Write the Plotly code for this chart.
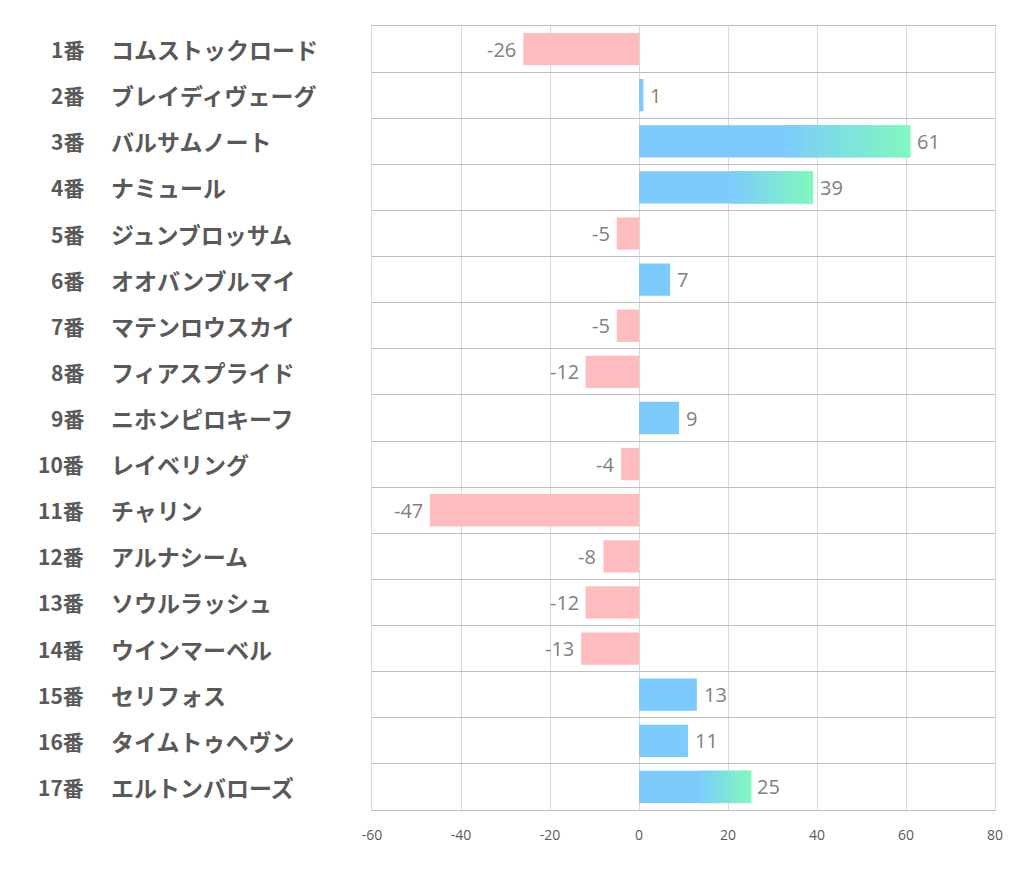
import plotly.graph_objects as go

numbers = ["1番", "2番", "3番", "4番", "5番", "6番", "7番", "8番", "9番", "10番",
           "11番", "12番", "13番", "14番", "15番", "16番", "17番"]
names = ["コムストックロード", "ブレイディヴェーグ", "バルサムノート", "ナミュール",
         "ジュンブロッサム", "オオバンブルマイ", "マテンロウスカイ", "フィアスプライド",
         "ニホンピロキーフ", "レイベリング", "チャリン", "アルナシーム", "ソウルラッシュ",
         "ウインマーベル", "セリフォス", "タイムトゥヘヴン", "エルトンバローズ"]
values = [-26, 1, 61, 39, -5, 7, -5, -12, 9, -4, -47, -8, -12, -13, 13, 11, 25]
x_ticks = [-60, -40, -20, 0, 20, 40, 60, 80]

BLUE = (125, 203, 253)
GREEN = (128, 248, 190)
PINK = (255, 188, 191)
GRAD_MIN = 20      # bars longer than this get a blue->green gradient
GRAD_START = 0.53  # fraction of bar length where the gradient begins
NSEG = 50


def rgb(c):
    return "rgb(%d,%d,%d)" % c


def mix(a, b, t):
    return tuple(round(a[i] + (b[i] - a[i]) * t) for i in range(3))


seg_y, seg_base, seg_len, seg_col = [], [], [], []
for num, v in zip(numbers, values):
    if v < 0:
        seg_y.append(num); seg_base.append(0); seg_len.append(v); seg_col.append(rgb(PINK))
    elif v <= GRAD_MIN:
        seg_y.append(num); seg_base.append(0); seg_len.append(v); seg_col.append(rgb(BLUE))
    else:
        s = GRAD_START * v
        seg_y.append(num); seg_base.append(0); seg_len.append(s + 0.5); seg_col.append(rgb(BLUE))
        step = (v - s) / NSEG
        for k in range(NSEG):
            t = (k + 0.5) / NSEG
            seg_y.append(num); seg_base.append(s + k * step)
            seg_len.append(step + 0.5 if k < NSEG - 1 else step)
            seg_col.append(rgb(mix(BLUE, GREEN, t)))

fig = go.Figure()
fig.add_trace(go.Bar(
    y=seg_y, x=seg_len, base=seg_base, orientation="h",
    marker=dict(color=seg_col, line=dict(width=0)),
    width=0.7, hoverinfo="skip", showlegend=False,
))

# page body adds an 8px offset; targets below are in screen pixels
OFF = 8
PLOT_L, PLOT_R, PLOT_T, PLOT_B = 372, 995, 26, 810
W, H = 1022, 887
pw = PLOT_R - PLOT_L

annotations = []
for num, nm, v in zip(numbers, names, values):
    annotations.append(dict(
        x=(86 - PLOT_L) / pw, xref="paper", y=num, yref="y",
        text=num, showarrow=False, xanchor="right", yanchor="middle",
        font=dict(family="Noto Sans CJK JP", size=21, color="#595959", weight="bold"),
    ))
    annotations.append(dict(
        x=(109 - PLOT_L) / pw, xref="paper", y=num, yref="y",
        text=nm, showarrow=False, xanchor="left", yanchor="middle",
        font=dict(family="Noto Sans CJK JP", size=23, color="#595959", weight="bold"),
    ))
    annotations.append(dict(
        x=v, xref="x", y=num, yref="y", text=str(v), showarrow=False,
        xanchor="left" if v >= 0 else "right", yanchor="middle",
        xshift=5 if v >= 0 else -5,
        font=dict(family="Open Sans, Noto Sans", size=20, color="#7f7f7f"),
    ))

fig.update_layout(
    width=W, height=H,
    margin=dict(l=PLOT_L - OFF, r=W + OFF - PLOT_R, t=PLOT_T - OFF, b=H + OFF - PLOT_B),
    plot_bgcolor="white", paper_bgcolor="white",
    barmode="overlay",
    annotations=annotations,
    xaxis=dict(
        range=[-60, 80], tickvals=x_ticks, ticktext=[str(t) for t in x_ticks],
        showgrid=True, gridcolor="#d9d9d9", gridwidth=1, zeroline=False,
        showline=True, linecolor="#bfbfbf", linewidth=1.3, mirror=True,
        ticks="", ticklabelstandoff=12,
        tickfont=dict(family="Open Sans, Noto Sans", size=14, color="#595959"),
    ),
    yaxis=dict(
        type="category", categoryorder="array", categoryarray=numbers,
        range=[len(numbers) - 0.5, -0.5], showticklabels=False, ticks="",
        tickson="boundaries", showgrid=True, gridcolor="#bfbfbf", gridwidth=1.3,
        showline=True, linecolor="#d9d9d9", mirror=True, zeroline=False,
    ),
)

fig.write_html("out.html")
